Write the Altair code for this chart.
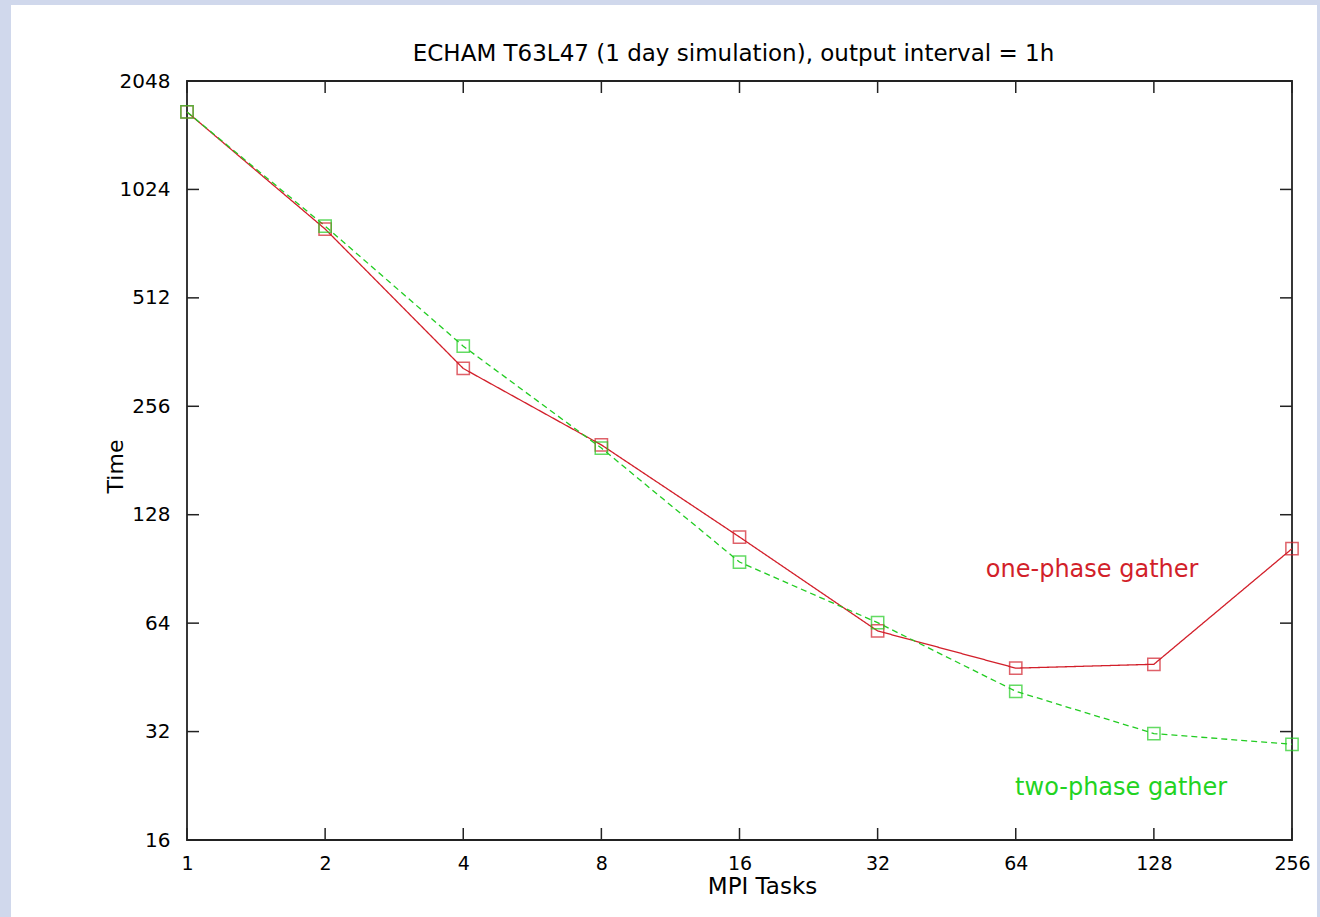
import altair as alt
import pandas as pd

tasks = [1, 2, 4, 8, 16, 32, 64, 128, 256]
one_phase = [1680, 795, 326, 200, 111, 60.9, 48, 49.2, 103]
two_phase = [1680, 810, 376, 196, 94.6, 64.2, 41.4, 31.6, 29.5]
y_ticks = [16, 32, 64, 128, 256, 512, 1024, 2048]
x_ticks = tasks
ann_text = ["one-phase gather", "two-phase gather"]
ann_x = [93.9, 108.6]
ann_y = [89.8, 22.3]
ann_color = ["#d21f2a", "#22d322"]

W, H = 1105, 759
FONT = "DejaVu Sans"
RED = "#d21f2a"
GREEN = "#22cc22"

df = pd.DataFrame({
    "tasks": tasks * 2,
    "time": one_phase + two_phase,
    "series": ["one-phase gather"] * len(tasks) + ["two-phase gather"] * len(tasks),
})
ann = pd.DataFrame({"text": ann_text, "x": ann_x, "y": ann_y, "c": ann_color})
xt = pd.DataFrame({"v": x_ticks})
yt = pd.DataFrame({"v": y_ticks})

xs = alt.Scale(type="log", base=2, domain=[1, 256], nice=False)
ys = alt.Scale(type="log", base=2, domain=[16, 2048], nice=False)

xaxis = alt.Axis(values=x_ticks, format="d", domain=False, ticks=False, tickSize=0,
                 grid=False, labelPadding=14, labelFontSize=19, labelFont=FONT,
                 labelFlush=False, labelOverlap=False,
                 labelColor="black", title="MPI Tasks", titleFont=FONT, titleFontSize=23,
                 titleFontWeight="normal", titleColor="black", titlePadding=2, titleX=575,
                 zindex=1)
yaxis = alt.Axis(values=y_ticks, format="d", domain=False, ticks=False, tickSize=0,
                 grid=False, labelPadding=17, labelFontSize=20, labelFont=FONT,
                 labelFlush=False, labelOverlap=False,
                 labelColor="black", title="Time", titleFont=FONT, titleFontSize=22,
                 titleFontWeight="normal", titleColor="black", titleX=-60, titleY=385,
                 zindex=1)

base = alt.Chart(df)

# white page area (left/top strip stays lavender)
bg = alt.Chart(pd.DataFrame({"a": [0]})).mark_rect(color="white").encode(
    x=alt.value(11 - 187), x2=alt.value(1317 - 187),
    y=alt.value(5 - 81), y2=alt.value(917 - 81))

# inward ticks
t_bottom = alt.Chart(xt).mark_rule(color="#222", strokeWidth=1.5).encode(
    x=alt.X("v:Q", scale=xs, axis=xaxis), y=alt.value(H), y2=alt.value(H - 12))
t_top = alt.Chart(xt).mark_rule(color="#222", strokeWidth=1.5).encode(
    x=alt.X("v:Q", scale=xs), y=alt.value(0), y2=alt.value(12))
t_left = alt.Chart(yt).mark_rule(color="#222", strokeWidth=1.5).encode(
    y=alt.Y("v:Q", scale=ys, axis=yaxis), x=alt.value(0), x2=alt.value(12))
t_right = alt.Chart(yt).mark_rule(color="#222", strokeWidth=1.5).encode(
    y=alt.Y("v:Q", scale=ys), x=alt.value(W), x2=alt.value(W - 12))

frame = alt.Chart(pd.DataFrame({"a": [0]})).mark_rect(
    fill=None, stroke="#222", strokeWidth=1.8).encode(
    x=alt.value(0), x2=alt.value(W), y=alt.value(0), y2=alt.value(H))

color = alt.Color("series:N", scale=alt.Scale(domain=["one-phase gather", "two-phase gather"],
                                              range=[RED, GREEN]), legend=None)
dash = alt.StrokeDash("series:N", scale=alt.Scale(domain=["one-phase gather", "two-phase gather"],
                                                  range=[[1, 0], [6, 4]]), legend=None)

lines = base.mark_line(strokeWidth=1.3).encode(
    x=alt.X("tasks:Q", scale=xs), y=alt.Y("time:Q", scale=ys), color=color,
    strokeDash=dash, order=alt.Order("tasks:Q"))
pts = base.mark_point(shape="square", size=150, filled=False, strokeWidth=1.5).encode(
    x=alt.X("tasks:Q", scale=xs), y=alt.Y("time:Q", scale=ys), color=color)

labels = alt.Chart(ann).mark_text(font=FONT, fontSize=24, align="center",
                                  baseline="middle").encode(
    x=alt.X("x:Q", scale=xs), y=alt.Y("y:Q", scale=ys), text="text:N",
    color=alt.Color("c:N", scale=None))

chart = alt.layer(bg, t_bottom, t_top, t_left, t_right, frame, lines, pts, labels).properties(
    width=W, height=H,
    title=alt.TitleParams("ECHAM T63L47 (1 day simulation), output interval = 1h",
                          font=FONT, fontSize=23, fontWeight="normal", color="black",
                          anchor="middle", frame="group", offset=-61, dx=-6),
    autosize=alt.AutoSizeParams(type="none"),
    padding={"left": 187, "top": 81, "right": 28, "bottom": 77},
    background="#d0d8ec",
).configure_view(stroke=None)

chart.save("out.html", embed_options={"renderer": "svg", "actions": False})
